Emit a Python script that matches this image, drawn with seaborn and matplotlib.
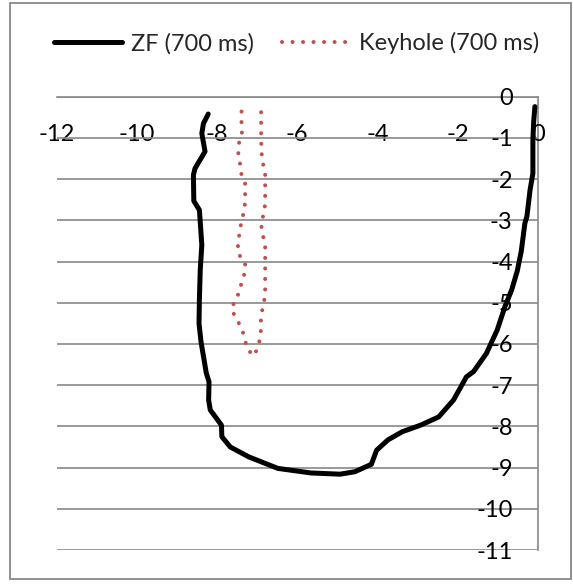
"""ZF vs keyhole trajectory chart (Excel-style, axes crossing at 0)."""

import matplotlib

matplotlib.use("Agg")
import matplotlib.pyplot as plt
import numpy as np
import pandas as pd
import seaborn as sns
from matplotlib.patches import Rectangle

# ZF (700 ms) trajectory, traced from the top-left end round to the top-right end
zf_x = [-8.22, -8.34, -8.38, -8.30, -8.55, -8.59, -8.58, -8.44, -8.38, -8.42,
        -8.44, -8.45, -8.40, -8.33, -8.27, -8.20, -8.21, -8.17, -7.89, -7.88,
        -7.67, -7.21, -6.48, -5.66, -4.93, -4.56, -4.15, -4.02, -3.74, -3.38,
        -2.92, -2.47, -2.10, -1.78, -1.60, -1.28, -1.01, -0.82, -0.65, -0.51,
        -0.41, -0.32, -0.27, -0.19, -0.12, -0.12, -0.12, -0.10, -0.07]
zf_y = [-0.42, -0.65, -0.89, -1.33, -1.74, -1.90, -2.53, -2.75, -3.60, -4.21,
        -4.90, -5.50, -5.95, -6.35, -6.70, -6.92, -7.36, -7.60, -7.97, -8.25,
        -8.50, -8.74, -9.02, -9.13, -9.16, -9.10, -8.92, -8.58, -8.33, -8.13,
        -7.97, -7.77, -7.36, -6.80, -6.67, -6.23, -5.66, -5.10, -4.69, -4.23,
        -3.75, -3.07, -2.91, -2.26, -1.86, -1.50, -1.05, -0.60, -0.24]

# Keyhole (700 ms) trajectory: down the left column, up the right column
kh_x = [-7.39, -7.39, -7.38, -7.45, -7.47, -7.43, -7.40, -7.30, -7.30, -7.30,
        -7.34, -7.40, -7.44, -7.48, -7.47, -7.30, -7.30, -7.39, -7.43, -7.57,
        -7.63, -7.51, -7.38, -7.31, -7.25, -7.08, -6.98, -6.92, -6.90, -6.91,
        -6.85, -6.80, -6.80, -6.80, -6.80, -6.80, -6.80, -6.88, -6.90, -6.82,
        -6.80, -6.80, -6.80, -6.80, -6.88, -6.89, -6.90, -6.90, -6.90, -6.90]
kh_y = [-0.36, -0.62, -0.87, -1.12, -1.36, -1.60, -1.86, -2.07, -2.33, -2.57,
        -2.83, -3.07, -3.32, -3.57, -3.82, -4.00, -4.25, -4.50, -4.73, -4.95,
        -5.18, -5.40, -5.63, -5.87, -6.12, -6.29, -6.08, -5.84, -5.58, -5.34,
        -5.08, -4.82, -4.56, -4.30, -4.04, -3.80, -3.56, -3.30, -3.06, -2.80,
        -2.55, -2.29, -2.04, -1.80, -1.55, -1.29, -1.05, -0.81, -0.52, -0.27]

x_ticks = [-12, -10, -8, -6, -4, -2, 0]
y_ticks = list(range(0, -12, -1))

GRAY = "#888888"
RED = "#C0504D"

sns.set_theme(style="white")
plt.rcParams["font.family"] = ["Lato", "DejaVu Sans"]
plt.rcParams["axes.unicode_minus"] = False

zf = pd.DataFrame({"x": zf_x, "y": zf_y})
kh = pd.DataFrame({"x": kh_x, "y": kh_y})

fig = plt.figure(figsize=(5.73, 5.84), dpi=100)
ax = fig.add_axes([0.0990, 0.0582, 0.8394, 0.7762])

sns.lineplot(data=zf, x="x", y="y", sort=False, estimator=None, ax=ax,
             color="black", linewidth=3.6, label="ZF (700 ms)",
             solid_capstyle="round", solid_joinstyle="round")
sns.lineplot(data=kh, x="x", y="y", sort=False, estimator=None, ax=ax,
             color=RED, linewidth=2.9, label="Keyhole (700 ms)",
             linestyle=(0, (0.01, 2.6)), dash_capstyle="round")

ax.set_xlim(-12, 0)
ax.set_ylim(-11, 0)
ax.set_xticks(x_ticks)
ax.set_yticks(y_ticks)
ax.set_xlabel("")
ax.set_ylabel("")

# axes cross at the origin, Excel style
ax.spines["bottom"].set_position(("data", 0))
ax.spines["left"].set_position(("data", 0))
ax.spines["top"].set_visible(False)
ax.spines["right"].set_visible(False)
for side in ("bottom", "left"):
    ax.spines[side].set_color(GRAY)
    ax.spines[side].set_linewidth(1.2)
    ax.spines[side].set_zorder(0.5)

ax.yaxis.grid(True, color=GRAY, linewidth=1.2, zorder=0)
ax.xaxis.grid(False)
ax.set_axisbelow(True)
ax.tick_params(axis="x", direction="out", length=6, width=1.2, color=GRAY,
               pad=13.5, labelsize=17, labelcolor="black")
ax.tick_params(axis="y", length=0, pad=18, labelsize=17, labelcolor="black")
ax.patch.set_alpha(0)
for line in ax.get_lines():
    line.set_clip_on(False)

handles, labels = ax.get_legend_handles_labels()
ax.get_legend().remove()
fig.legend(handles, labels, loc="center left", bbox_to_anchor=(0.094, 0.926),
           ncol=2, frameon=False, fontsize=17, handlelength=2.9,
           handletextpad=0.35, columnspacing=1.2, borderpad=0, borderaxespad=0)

fig.patches.append(Rectangle((0.0175, 0.0086), 0.979, 0.9863, transform=fig.transFigure,
                             fill=False, edgecolor=GRAY, linewidth=1.3))

fig.savefig("out.png", dpi=100)
plt.close(fig)
